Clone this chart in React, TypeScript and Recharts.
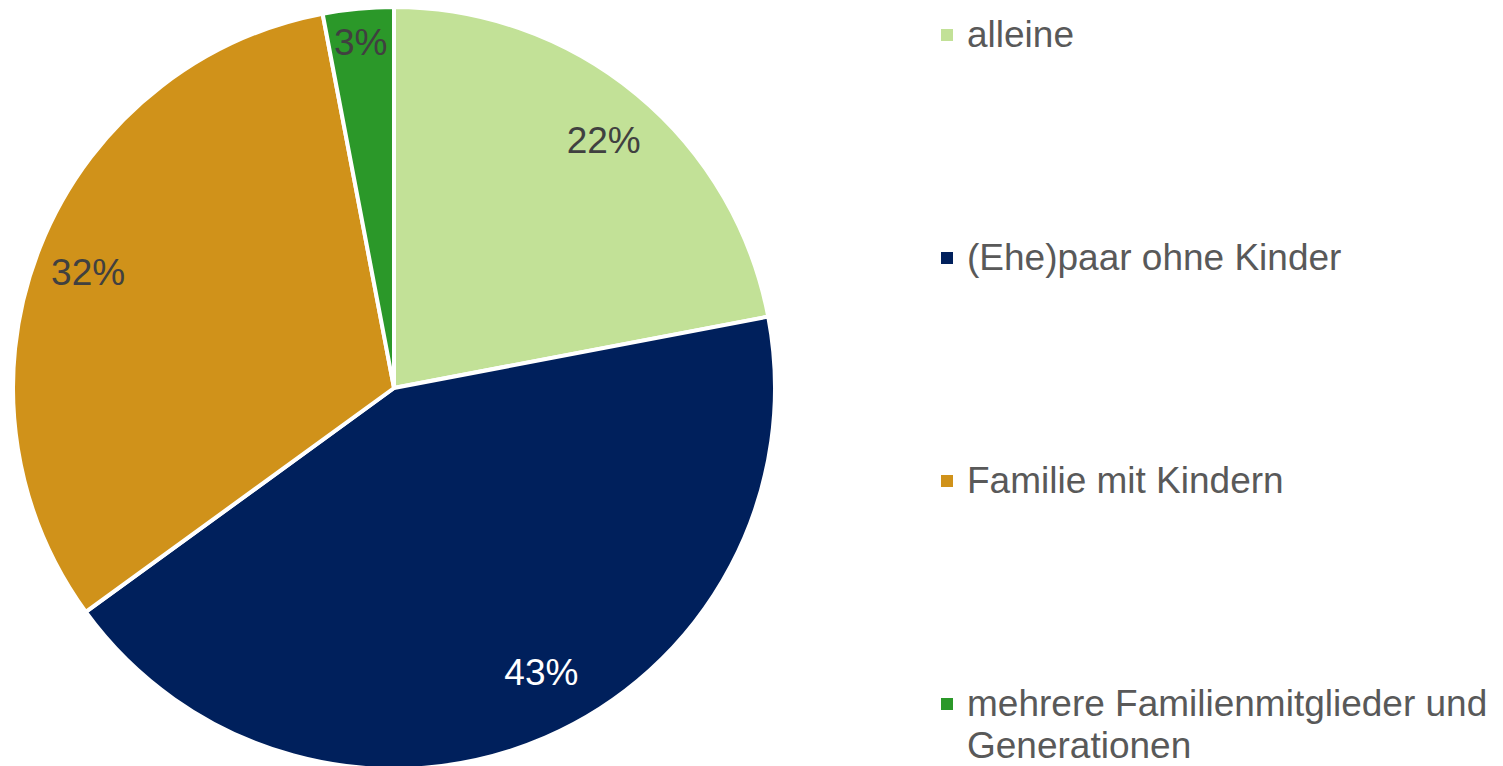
import { PieChart, Pie, Cell, Legend } from "recharts";

const categories = [
  "alleine",
  "(Ehe)paar ohne Kinder",
  "Familie mit Kindern",
  "mehrere Familienmitglieder und Generationen",
];
const shares = [22, 43, 32, 3];
const colors = ["#C2E197", "#00205C", "#D0921A", "#2B9829"];
const labelColors = ["#404040", "#FFFFFF", "#404040", "#404040"];

const chartData = categories.map((name, i) => ({ name, value: shares[i] }));

const RAD = Math.PI / 180;
const FONT = "'Liberation Sans', Arial, sans-serif";

// best-fit style tweaks for the data labels (inset from edge, angle nudge)
const labelInset = [52, 66, 52, 28];
const labelTurn = [0, 4.5, 0, 0];

const renderLabel = (props: any) => {
  const { cx, cy, midAngle, outerRadius, index } = props;
  const r = outerRadius - labelInset[index];
  const a = (midAngle + labelTurn[index]) * RAD;
  const x = cx + r * Math.cos(-a);
  const y = cy + r * Math.sin(-a) + 6;
  return (
    <text
      x={x}
      y={y}
      fill={labelColors[index]}
      textAnchor="middle"
      dominantBaseline="central"
      fontSize={37}
      fontFamily={FONT}
    >
      {`${shares[index]}%`}
    </text>
  );
};

const LegendBox = () => (
  <div style={{ fontFamily: FONT, fontSize: 37, color: "#595959" }}>
    {categories.map((c, i) => (
      <div
        key={c}
        style={{ position: "absolute", left: 0, top: i * 223, display: "flex", alignItems: "flex-start", width: 560 }}
      >
        <span
          style={{
            display: "inline-block",
            width: 12,
            height: 12,
            background: colors[i],
            marginTop: 15,
            marginRight: 14,
            flex: "none",
          }}
        />
        <span style={{ lineHeight: "42px" }}>{c}</span>
      </div>
    ))}
  </div>
);

const App = () => (
  <div style={{ position: "absolute", left: 0, top: 0, width: 1503, height: 766, background: "#fff" }}>
    <PieChart width={1503} height={766} margin={{ top: 0, right: 0, bottom: 0, left: 0 }}>
      <Pie
        data={chartData}
        dataKey="value"
        nameKey="name"
        cx={394}
        cy={388}
        outerRadius={381}
        startAngle={90}
        endAngle={-270}
        stroke="#FFFFFF"
        strokeWidth={4}
        label={renderLabel}
        labelLine={false}
        isAnimationActive={false}
      >
        {chartData.map((d, i) => (
          <Cell key={d.name} fill={colors[i]} />
        ))}
      </Pie>
      <Legend
        content={<LegendBox />}
        wrapperStyle={{ position: "absolute", left: 941, top: 14, width: 560, height: 740 }}
      />
    </PieChart>
  </div>
);

export default App;
